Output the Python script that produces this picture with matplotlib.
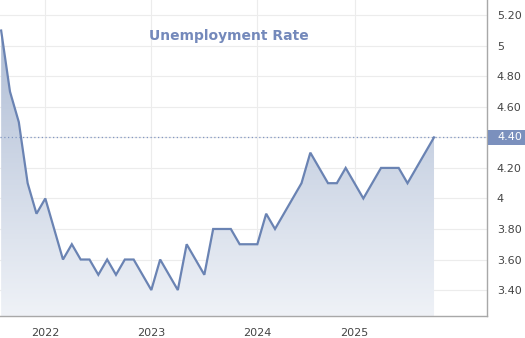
import matplotlib
matplotlib.use("Agg")
import matplotlib.pyplot as plt
import numpy as np
from matplotlib.colors import LinearSegmentedColormap
from matplotlib.patches import Rectangle

# Monthly unemployment rate, Aug 2021 .. Sep 2025
months = ["2021-08","2021-09","2021-10","2021-11","2021-12",
          "2022-01","2022-02","2022-03","2022-04","2022-05","2022-06",
          "2022-07","2022-08","2022-09","2022-10","2022-11","2022-12",
          "2023-01","2023-02","2023-03","2023-04","2023-05","2023-06",
          "2023-07","2023-08","2023-09","2023-10","2023-11","2023-12",
          "2024-01","2024-02","2024-03","2024-04","2024-05","2024-06",
          "2024-07","2024-08","2024-09","2024-10","2024-11","2024-12",
          "2025-01","2025-02","2025-03","2025-04","2025-05","2025-06",
          "2025-07","2025-08","2025-09"]
rate = [5.1, 4.7, 4.5, 4.1, 3.9,
        4.0, 3.8, 3.6, 3.7, 3.6, 3.6,
        3.5, 3.6, 3.5, 3.6, 3.6, 3.5,
        3.4, 3.6, 3.5, 3.4, 3.7, 3.6,
        3.5, 3.8, 3.8, 3.8, 3.7, 3.7,
        3.7, 3.9, 3.8, 3.9, 4.0, 4.1,
        4.3, 4.2, 4.1, 4.1, 4.2, 4.1,
        4.0, 4.1, 4.2, 4.2, 4.2, 4.1,
        4.2, 4.3, 4.4]
year_labels = ["2022", "2023", "2024", "2025"]
year_tick_months = ["2022-01", "2023-01", "2024-01", "2024-12"]
y_ticks = [3.4, 3.6, 3.8, 4.0, 4.2, 4.4, 4.6, 4.8, 5.0, 5.2]
y_labels = ["3.40", "3.60", "3.80", "4", "4.20", "4.40", "4.60", "4.80", "5", "5.20"]
last_value = rate[-1]
title = "Unemployment Rate"

x = np.arange(len(months))
xt = [months.index(m) for m in year_tick_months]

line_c = "#6a83b3"
W, H = 525, 338
fig = plt.figure(figsize=(W/100, H/100), dpi=100)
ax = fig.add_axes([0, 1 - 316/H, 487/W, 316/H])

ymin, ymax = 3.23, 5.30
xmin = -0.13
xmax = xmin + 487/8.834
ax.set_xlim(xmin, xmax)
ax.set_ylim(ymin, ymax)

# gradient fill under the line
poly = ax.fill_between(x, rate, ymin, color="none", lw=0)
grad = np.linspace(1, 0, 256).reshape(-1, 1)
cmap = LinearSegmentedColormap.from_list("g", ["#eff2f7", "#a9b8d2"])
im = ax.imshow(grad, cmap=cmap, aspect="auto", extent=[xmin, xmax, ymin, ymax],
               origin="upper", zorder=1, vmin=0, vmax=1)
im.set_clip_path(poly.get_paths()[0], transform=ax.transData)

ax.plot(x, rate, color=line_c, lw=1.6, zorder=3, solid_joinstyle="miter")
ax.axhline(last_value, color="#8297c2", lw=0.9, ls=(0, (1, 2)), zorder=2)

ax.set_xticks(xt)
ax.set_xticklabels(year_labels)
ax.set_yticks(y_ticks)
ax.set_yticklabels(y_labels)
ax.yaxis.tick_right()
ax.tick_params(axis="both", length=0, labelsize=8, colors="#444444", pad=7)
ax.tick_params(axis="x", pad=9)
ax.grid(True, color="#ececec", lw=0.8, zorder=0)
ax.set_axisbelow(True)
for s in ["top", "left"]:
    ax.spines[s].set_visible(False)
for s in ["right", "bottom"]:
    ax.spines[s].set_color("#a8a8a8")
    ax.spines[s].set_linewidth(1.0)

for lab in ax.get_yticklabels():
    if lab.get_text() == f"{last_value:.2f}":
        lab.set_alpha(0)

# current value tag, spanning from the axis to the right edge
fig.canvas.draw()
ypix = ax.transData.transform((0, last_value))[1]
tag_h = 15
fig.patches.append(Rectangle((488/W, (ypix - tag_h/2)/H), 1 - 488/W, tag_h/H,
                             transform=fig.transFigure, fc="#7b90bd", ec="none"))
fig.text(497/W, ypix/H, f"{last_value:.2f}", ha="left", va="center",
         fontsize=8, color="white")

ax.text(0.47, 0.886, title, transform=ax.transAxes, ha="center", va="center",
        fontsize=10, fontweight="bold", color="#7489bb", zorder=4)

fig.savefig("out.png", dpi=100)
